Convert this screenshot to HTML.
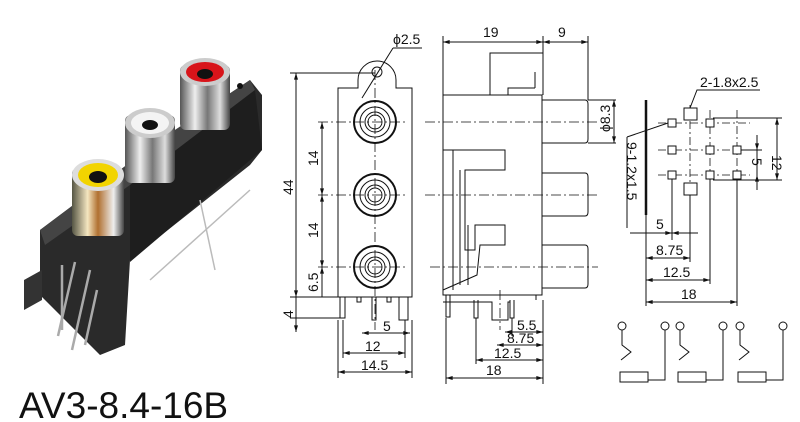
<!DOCTYPE html>
<html><head><style>body{margin:0;background:#fff}svg{display:block}text{font-family:"Liberation Sans",Arial,sans-serif;fill:#111}</style></head><body>
<svg width="800" height="422" viewBox="0 0 800 422" xmlns="http://www.w3.org/2000/svg">
<defs>
<linearGradient id="met" x1="0" x2="1"><stop offset="0" stop-color="#555"/><stop offset=".3" stop-color="#eee"/><stop offset=".55" stop-color="#777"/><stop offset=".8" stop-color="#ddd"/><stop offset="1" stop-color="#444"/></linearGradient>
<linearGradient id="gold" x1="0" x2="1"><stop offset="0" stop-color="#554"/><stop offset=".3" stop-color="#f4e6c0"/><stop offset=".5" stop-color="#b07030"/><stop offset=".8" stop-color="#eee"/><stop offset="1" stop-color="#444"/></linearGradient>
<marker id="a" viewBox="0 0 10 6" refX="10" refY="3" markerWidth="8" markerHeight="4" orient="auto-start-reverse"><path d="M0,0L10,3L0,6z" fill="#111"/></marker>
</defs>
<!-- photo -->
<g>
<polygon points="40,230 160,140 250,80 262,95 262,150 250,165 130,260 125,345 100,355 40,295" fill="#2a2a2a"/>
<polygon points="40,230 160,140 250,80 255,90 130,185 45,245" fill="#444"/>
<polygon points="130,185 255,90 262,150 130,262" fill="#1e1e1e"/>
<polygon points="24,280 42,270 42,300 24,310" fill="#333"/>
<g stroke="#aaa" stroke-width="2.5"><line x1="62" y1="265" x2="62" y2="330"/><line x1="75" y1="262" x2="58" y2="336"/><line x1="90" y1="270" x2="72" y2="350"/><line x1="97" y1="290" x2="85" y2="345"/></g>
<g stroke="#bbb" stroke-width="1.5"><line x1="150" y1="280" x2="250" y2="190"/><line x1="200" y1="200" x2="215" y2="270"/></g>
<rect x="72" y="168" width="52" height="68" rx="6" fill="url(#gold)"/><ellipse cx="98" cy="175" rx="26" ry="16" fill="#ddd"/><ellipse cx="98" cy="175" rx="20" ry="12" fill="#f2d400"/><ellipse cx="98" cy="177" rx="9" ry="6" fill="#111"/>
<rect x="125" y="115" width="50" height="68" rx="6" fill="url(#met)"/><ellipse cx="150" cy="123" rx="25" ry="15" fill="#ccc"/><ellipse cx="150" cy="123" rx="19" ry="11" fill="#f4f4f4"/><ellipse cx="150" cy="125" rx="8" ry="5" fill="#111"/>
<rect x="180" y="65" width="50" height="65" rx="6" fill="url(#met)"/><ellipse cx="205" cy="72" rx="25" ry="14" fill="#ccc"/><ellipse cx="205" cy="72" rx="19" ry="10" fill="#d8141a"/><ellipse cx="205" cy="74" rx="8" ry="5" fill="#111"/>
<circle cx="240" cy="86" r="3" fill="#111"/>
</g>
<text x="19" y="418" font-size="37">AV3-8.4-16B</text>
<g fill="none" stroke="#111" stroke-width="1">
<!-- front view -->
<path d="M338,297 V88 H358 V80 A19,19 0 0 1 396,80 V88 H412 V297 Z"/>
<circle cx="377" cy="72" r="5"/>
<line x1="362" y1="98" x2="393" y2="48"/><line x1="393" y1="48" x2="422" y2="48"/>
<g stroke-width="2"><circle cx="375" cy="122" r="21"/><circle cx="375" cy="195" r="21"/><circle cx="375" cy="267" r="21"/></g>
<g><circle cx="375" cy="122" r="15"/><circle cx="375" cy="122" r="10"/><circle cx="375" cy="122" r="7"/>
<circle cx="375" cy="195" r="15"/><circle cx="375" cy="195" r="10"/><circle cx="375" cy="195" r="7"/>
<circle cx="375" cy="267" r="15"/><circle cx="375" cy="267" r="10"/><circle cx="375" cy="267" r="7"/></g>
<g stroke-dasharray="10,3,2,3" stroke-width=".8"><line x1="318" y1="122" x2="405" y2="122"/><line x1="318" y1="195" x2="405" y2="195"/><line x1="318" y1="267" x2="405" y2="267"/><line x1="375" y1="70" x2="375" y2="330"/></g>
<path d="M340,297 V318 H345 V297 M357,297 V302 H361 V297 M372,297 V320 H376 V297 M387,297 V302 H391 V297 M399,297 V320 H408 V297"/>
<line x1="296" y1="73" x2="296" y2="297" marker-start="url(#a)" marker-end="url(#a)"/>
<line x1="296" y1="297" x2="296" y2="332" marker-end="url(#a)"/>
<line x1="290" y1="73" x2="375" y2="73"/><line x1="290" y1="297" x2="338" y2="297"/><line x1="290" y1="318" x2="340" y2="318"/>
<line x1="322" y1="122" x2="322" y2="195" marker-start="url(#a)" marker-end="url(#a)"/>
<line x1="322" y1="195" x2="322" y2="267" marker-start="url(#a)" marker-end="url(#a)"/>
<line x1="322" y1="267" x2="322" y2="297" marker-start="url(#a)"/>
<line x1="362" y1="333" x2="410" y2="333" marker-start="url(#a)" marker-end="url(#a)"/>
<line x1="343" y1="353" x2="405" y2="353" marker-start="url(#a)" marker-end="url(#a)"/>
<line x1="338" y1="372" x2="412" y2="372" marker-start="url(#a)" marker-end="url(#a)"/>
<line x1="338" y1="320" x2="338" y2="378"/><line x1="412" y1="320" x2="412" y2="378"/><line x1="343" y1="320" x2="343" y2="358"/><line x1="405" y1="320" x2="405" y2="358"/>
<!-- side view -->
<path d="M443,95 H542 V295 H443 Z"/>
<path d="M490,95 V53 H543 V95 M508,95 V88 H535 M535,88 V72"/>
<path d="M542,100 H585 Q588,100 588,104 V139 Q588,143 585,143 H542 M542,173 H585 Q588,173 588,177 V212 Q588,216 585,216 H542 M542,245 H585 Q588,245 588,249 V284 Q588,288 585,288 H542"/>
<path d="M443,150 H505 V170 H465 V250 H475 V225 H505 V245 H480 L477,275 L443,290 M453,150 V290 M460,170 V285 M468,225 V285"/>
<path d="M443,295 H536 V300 M443,302 H492 V320 H508 V302 H510"/>
<path d="M446,295 V317 H450 V295 M474,300 V318 H478 V300 M510,300 V318 H514 V300"/>
<g stroke-dasharray="10,3,2,3" stroke-width=".8"><line x1="425" y1="122" x2="600" y2="122"/><line x1="425" y1="195" x2="598" y2="195"/><line x1="430" y1="267" x2="598" y2="267"/><line x1="500" y1="290" x2="500" y2="330"/></g>
<line x1="443" y1="42" x2="543" y2="42" marker-start="url(#a)" marker-end="url(#a)"/>
<line x1="543" y1="42" x2="588" y2="42" marker-start="url(#a)" marker-end="url(#a)"/>
<line x1="443" y1="36" x2="443" y2="95"/><line x1="543" y1="36" x2="543" y2="53"/><line x1="588" y1="36" x2="588" y2="100"/>
<line x1="614" y1="100" x2="614" y2="143" marker-start="url(#a)" marker-end="url(#a)"/>
<line x1="588" y1="100" x2="616" y2="100"/><line x1="588" y1="143" x2="616" y2="143"/>
<line x1="505" y1="332" x2="543" y2="332" marker-start="url(#a)" marker-end="url(#a)"/>
<line x1="497" y1="345" x2="543" y2="345" marker-start="url(#a)" marker-end="url(#a)"/>
<line x1="476" y1="360" x2="543" y2="360" marker-start="url(#a)" marker-end="url(#a)"/>
<line x1="446" y1="378" x2="543" y2="378" marker-start="url(#a)" marker-end="url(#a)"/>
<line x1="543" y1="300" x2="543" y2="384"/><line x1="446" y1="318" x2="446" y2="384"/><line x1="476" y1="318" x2="476" y2="364"/><line x1="512" y1="318" x2="512" y2="336"/>
<!-- right footprint -->
<line x1="646" y1="100" x2="646" y2="215" stroke-width="2.5"/>
<g stroke-dasharray="8,3,2,3" stroke-width=".8"><line x1="658" y1="123" x2="750" y2="123"/><line x1="658" y1="150" x2="750" y2="150"/><line x1="658" y1="175" x2="750" y2="175"/><line x1="690" y1="105" x2="690" y2="195"/><line x1="710" y1="110" x2="710" y2="190"/><line x1="737" y1="110" x2="737" y2="190"/></g>
<g fill="#fff"><rect x="668" y="119" width="8" height="8"/><rect x="706" y="119" width="8" height="8"/><rect x="668" y="146" width="8" height="8"/><rect x="706" y="146" width="8" height="8"/><rect x="733" y="146" width="8" height="8"/><rect x="668" y="171" width="8" height="8"/><rect x="706" y="171" width="8" height="8"/><rect x="733" y="171" width="8" height="8"/><rect x="684" y="108" width="13" height="12"/><rect x="684" y="183" width="13" height="12"/></g>
<path d="M690,108 L697,90 H760"/><line x1="668" y1="123" x2="627" y2="137"/>
<line x1="713" y1="118" x2="782" y2="118"/><line x1="713" y1="180" x2="782" y2="180"/>
<line x1="777" y1="118" x2="777" y2="180" marker-start="url(#a)" marker-end="url(#a)"/>
<line x1="741" y1="150" x2="762" y2="150"/>
<line x1="757" y1="135" x2="757" y2="150" marker-end="url(#a)"/><line x1="757" y1="190" x2="757" y2="175" marker-end="url(#a)"/><line x1="757" y1="150" x2="757" y2="175"/>
<line x1="672" y1="179" x2="672" y2="240"/><line x1="690" y1="195" x2="690" y2="262"/><line x1="710" y1="179" x2="710" y2="284"/><line x1="737" y1="179" x2="737" y2="306"/><line x1="646" y1="215" x2="646" y2="306"/>
<line x1="630" y1="233" x2="672" y2="233" marker-end="url(#a)"/><line x1="698" y1="233" x2="672" y2="233" marker-end="url(#a)"/>
<line x1="646" y1="258" x2="690" y2="258" marker-start="url(#a)" marker-end="url(#a)"/>
<line x1="646" y1="280" x2="710" y2="280" marker-start="url(#a)" marker-end="url(#a)"/>
<line x1="646" y1="302" x2="737" y2="302" marker-start="url(#a)" marker-end="url(#a)"/>
<line x1="627" y1="137" x2="627" y2="228"/>
<!-- schematics -->
<g id="sc"><circle cx="622" cy="326" r="4"/><circle cx="665" cy="326" r="4"/><path d="M622,330 V345 L631,352 L621,360 M665,330 V380 H648 M620,372 H648 V382 H620 Z"/></g>
<use href="#sc" x="58"/><use href="#sc" x="118"/>
</g>
<g font-size="14">
<text x="393" y="44">ϕ2.5</text>
<text x="483" y="37">19</text><text x="558" y="37">9</text>
<text transform="translate(610,132) rotate(-90)">ϕ8.3</text>
<text transform="translate(293,195) rotate(-90)">44</text>
<text transform="translate(318,166) rotate(-90)">14</text>
<text transform="translate(318,238) rotate(-90)">14</text>
<text transform="translate(318,292) rotate(-90)">6.5</text>
<text transform="translate(293,318) rotate(-90)">4</text>
<text x="383" y="331">5</text><text x="365" y="351">12</text><text x="361" y="370">14.5</text>
<text x="517" y="330">5.5</text><text x="507" y="343">8.75</text><text x="494" y="358">12.5</text><text x="486" y="375">18</text>
<text x="700" y="87">2-1.8x2.5</text>
<text transform="translate(627,142) rotate(90)">9-1.2x1.5</text>
<text transform="translate(772,155) rotate(90)">12</text>
<text transform="translate(752,158) rotate(90)">5</text>
<text x="656" y="229">5</text><text x="656" y="255">8.75</text><text x="663" y="277">12.5</text><text x="681" y="299">18</text>
</g>
</svg>
</body></html>
